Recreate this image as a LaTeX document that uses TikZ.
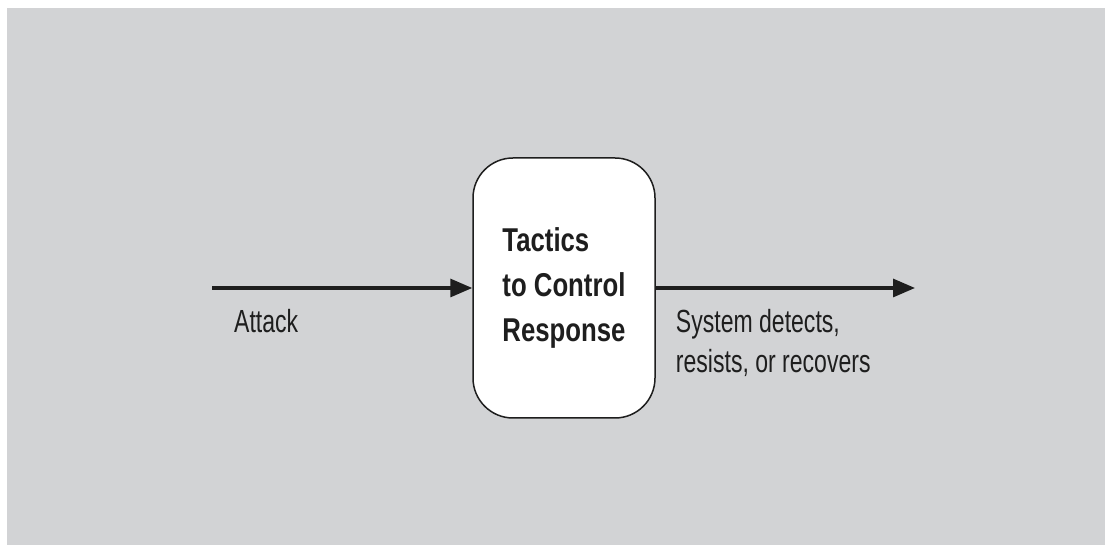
\documentclass[tikz,border=0pt]{standalone}
\usepackage{fontspec}
\setmainfont{Liberation Sans}
\newfontfamily\lblfont[FakeStretch=0.72]{Liberation Sans}
\newfontfamily\boxfont[FakeStretch=0.78]{Liberation Sans}
\usetikzlibrary{positioning,arrows.meta,calc}
\definecolor{bgGray}{RGB}{210,211,213}
\definecolor{inkDark}{RGB}{30,30,30}

\begin{document}
\begin{tikzpicture}[x=1pt,y=1pt,
  box/.style={draw=inkDark,line width=1.5pt,fill=white,rounded corners=40pt,minimum width=182pt,minimum height=260pt,align=left,text=inkDark,font=\boxfont\fontsize{33}{45}\selectfont\bfseries},
  lbl/.style={inner sep=0pt,align=left,text=inkDark,font=\lblfont\fontsize{32}{40}\selectfont},
  flow/.style={-{Triangle[length=22pt,width=18pt]},line width=3.2pt,draw=inkDark}]
\useasboundingbox (0,0) rectangle (1105,545);
\fill[white] (0,0) rectangle (1105,545);
\fill[bgGray] (7,0) rectangle (1105,537);
\node[box] (tactics) at (564,257) {Tactics\\to Control\\Response};
\coordinate (src) at (212,257);
\coordinate (sink) at (915,257);
\draw[flow] (src) -- (tactics.west);
\draw[flow] (tactics.east) -- (sink);
\node[lbl,anchor=base west] (attack) at ($(src)+(22,-45)$) {Attack};
\node[lbl,anchor=north west] (result) at ($(tactics.east)+(20,-21)$) {System detects,\\resists, or recovers};
\end{tikzpicture}
\end{document}
